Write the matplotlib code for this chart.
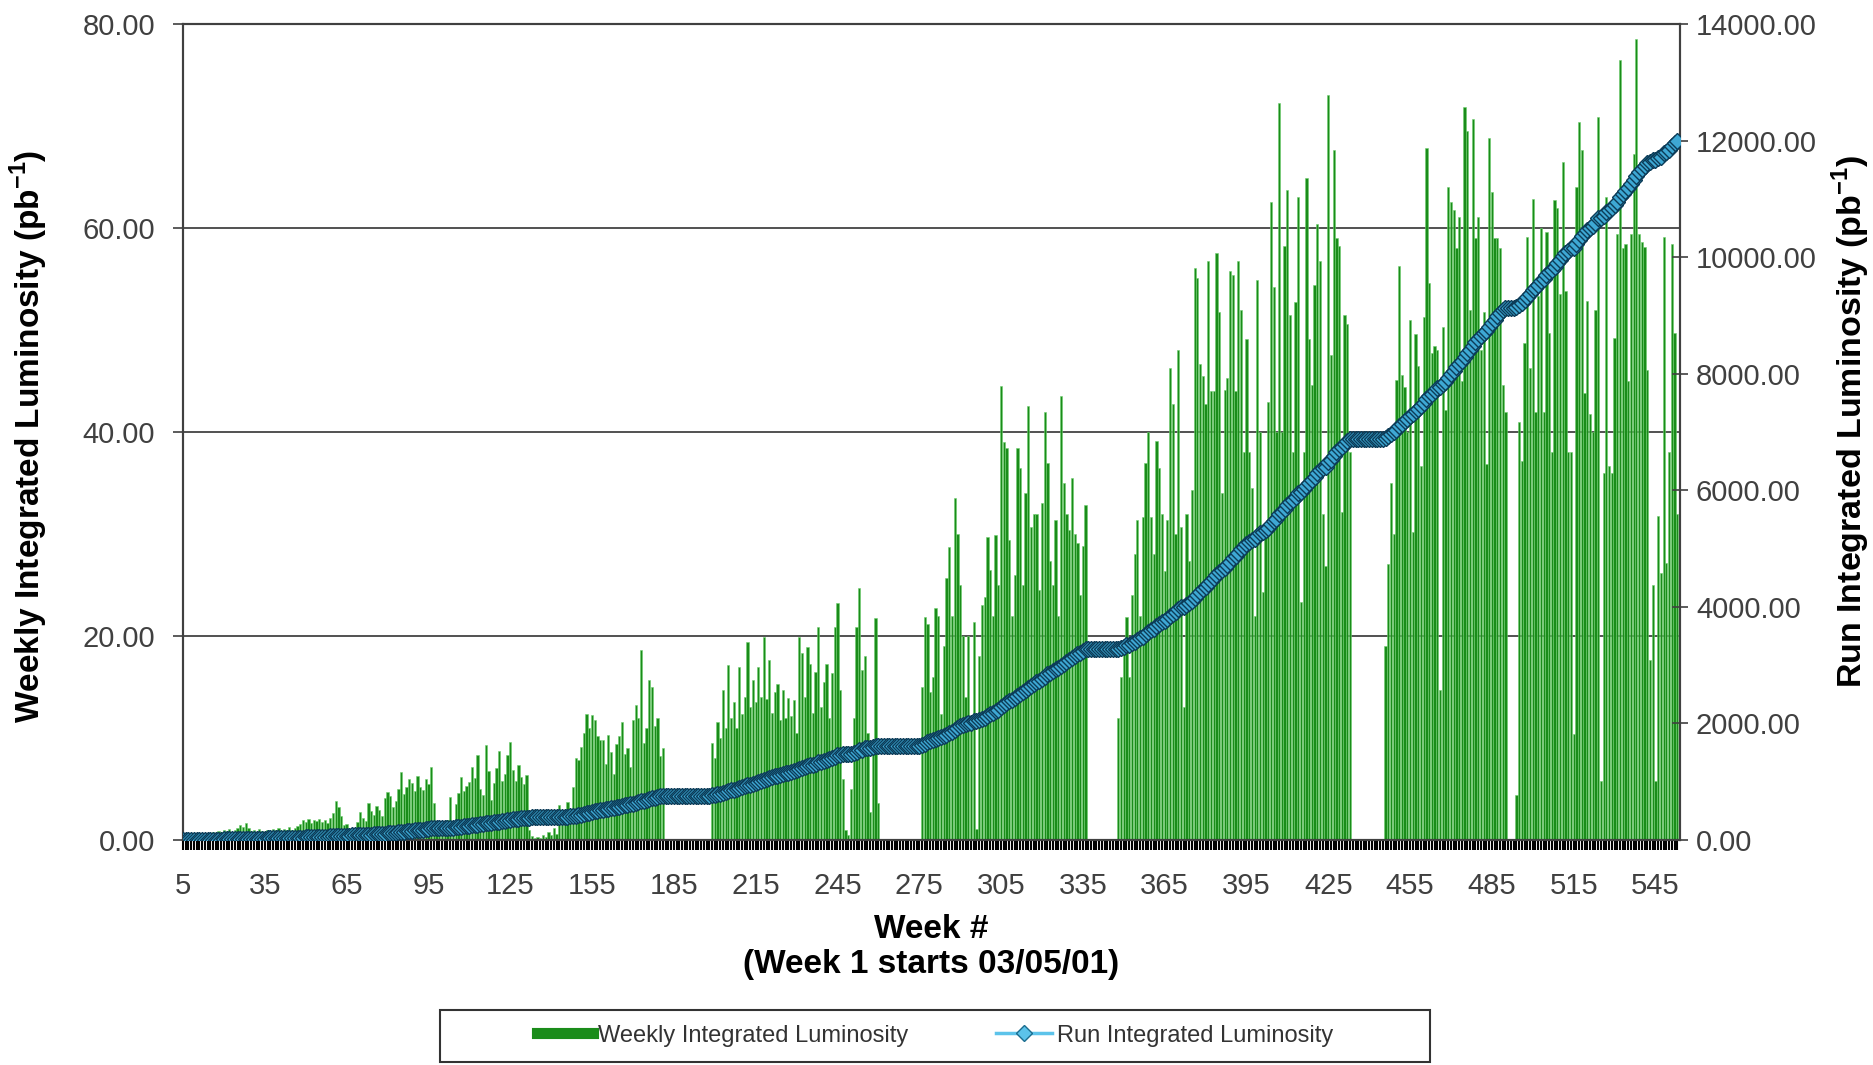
import numpy as np
import matplotlib

matplotlib.use("Agg")
import matplotlib.pyplot as plt
from matplotlib.lines import Line2D
from matplotlib.patches import Rectangle

plt.rcParams["font.family"] = ["Liberation Sans", "DejaVu Sans"]
plt.rcParams["mathtext.fontset"] = "custom"
plt.rcParams["mathtext.rm"] = "Liberation Sans"
plt.rcParams["mathtext.bf"] = "Liberation Sans:bold"

# week numbers (week 1 starts 03/05/01)
weeks = np.arange(5, 554)

# weekly integrated luminosity (pb^-1), one row = 10 weeks
weekly_lumi = [
    0.2, 0.3, 0.2, 0.4, 0.3, 0.5, 0.4, 0.6, 0.5, 0.7,          # 5
    0.6, 0.8, 0.7, 0.9, 0.8, 1.0, 0.9, 1.1, 0.8, 1.0,          # 15
    1.2, 1.5, 1.3, 1.7, 1.2, 0.9, 1.0, 0.8, 1.1, 0.9,          # 25
    0.8, 1.0, 0.9, 1.1, 1.0, 1.2, 0.9, 1.1, 1.0, 1.3,          # 35
    1.0, 1.2, 1.4, 1.6, 2.0, 1.8, 2.1, 1.7, 2.0, 1.9,          # 45
    2.1, 1.8, 2.0, 1.7, 2.2, 2.6, 3.8, 3.2, 2.4, 1.5,          # 55
    1.6, 1.0, 0.8, 1.2, 1.8, 2.7, 2.2, 1.9, 3.6, 2.8,          # 65
    2.5, 3.3, 2.9, 2.4, 4.1, 4.7, 4.3, 3.2, 3.8, 5.0,          # 75
    6.7, 4.5, 5.2, 6.0, 5.6, 4.8, 6.3, 5.2, 4.9, 6.0,          # 85
    5.5, 7.2, 3.6, 1.2, 0.6, 0.8, 1.5, 2.0, 4.2, 1.8,          # 95
    3.5, 4.6, 6.2, 4.8, 5.3, 5.7, 7.2, 6.1, 8.3, 5.0,          # 105
    4.4, 9.3, 6.8, 3.9, 5.6, 7.1, 8.7, 5.8, 6.5, 8.3,          # 115
    9.6, 6.9, 5.8, 7.4, 6.2, 5.5, 6.4, 1.0, 0.4, 0.2,          # 125
    0.3, 0.2, 0.5, 0.3, 0.8, 0.5, 1.2, 0.6, 3.4, 1.5,          # 135
    2.2, 3.7, 1.8, 5.2, 8.0, 7.8, 9.1, 10.5, 12.4, 11.0,       # 145
    12.3, 11.8, 10.2, 9.8, 9.8, 7.5, 10.3, 8.6, 6.5, 9.4,      # 155
    10.2, 11.6, 8.4, 9.0, 7.2, 11.8, 13.2, 12.0, 18.6, 9.5,    # 165
    11.0, 15.7, 15.0, 11.2, 12.0, 8.2, 9.0, 0, 0, 0,           # 175
    0, 0, 0, 0, 0, 0, 0, 0, 0, 0,                              # 185
    0, 0, 0, 0, 9.5, 8.0, 11.6, 10.0, 14.7, 11.0,              # 195
    17.2, 12.0, 13.5, 11.0, 17.0, 12.4, 14.0, 19.4, 13.0, 15.7,  # 205
    13.5, 17.0, 14.0, 19.9, 13.8, 17.6, 12.5, 14.5, 15.3, 11.8,  # 215
    14.7, 12.0, 13.9, 12.2, 13.7, 10.5, 19.9, 18.3, 14.0, 18.9,  # 225
    17.3, 12.5, 16.5, 20.9, 13.0, 15.5, 17.3, 12.0, 16.4, 20.9,  # 235
    23.2, 14.7, 6.0, 1.0, 0.5, 5.0, 12.0, 20.9, 24.7, 16.7,      # 245
    18.0, 10.5, 2.7, 9.7, 21.8, 3.6, 0, 0, 0, 0,                 # 255
    0, 0, 0, 0, 0, 0, 0, 0, 0, 0,                                # 265
    0, 15.0, 21.9, 21.2, 14.5, 16.0, 22.7, 22.0, 12.4, 19.0,     # 275
    25.7, 28.7, 22.0, 33.5, 30.0, 25.0, 20.0, 14.0, 20.0, 12.0,  # 285
    21.4, 1.1, 18.0, 23.0, 23.8, 29.7, 26.5, 22.0, 29.9, 25.0,   # 295
    44.5, 39.0, 38.4, 29.4, 22.0, 26.0, 38.4, 36.5, 25.0, 34.0,  # 305
    42.5, 30.7, 32.0, 32.0, 24.5, 33.0, 42.0, 37.0, 27.4, 25.0,  # 315
    31.4, 22.0, 43.5, 35.0, 32.0, 30.4, 35.5, 30.0, 29.1, 24.0,  # 325
    28.8, 32.8, 0, 0, 0, 0, 0, 0, 0, 0,                          # 335
    0, 0, 0, 12.0, 16.0, 19.0, 21.9, 16.0, 24.0, 28.0,           # 345
    31.4, 22.0, 31.7, 37.0, 40.0, 31.7, 28.0, 39.1, 36.5, 32.0,  # 355
    26.4, 31.4, 46.3, 42.7, 30.0, 48.0, 30.7, 13.0, 32.0, 27.4,  # 365
    34.3, 56.1, 55.1, 46.7, 45.5, 42.7, 56.8, 44.0, 44.0, 57.5,  # 375
    51.8, 34.0, 44.1, 45.3, 55.8, 55.4, 44.0, 56.8, 52.0, 38.0,  # 385
    49.1, 38.0, 34.5, 22.0, 54.9, 40.0, 24.3, 30.0, 42.9, 62.5,  # 395
    54.2, 40.0, 72.3, 40.0, 58.2, 63.7, 51.5, 38.0, 52.7, 63.0,  # 405
    23.3, 38.0, 64.9, 49.1, 44.6, 54.4, 60.4, 56.8, 32.0, 26.9,  # 415
    73.0, 47.5, 67.6, 59.0, 58.2, 32.2, 51.5, 50.6, 38.0, 0,     # 425
    0, 0, 0, 0, 0, 0, 0, 0, 0, 0,                                # 435
    0, 19.0, 27.1, 35.0, 30.0, 45.1, 56.3, 45.6, 44.4, 40.0,     # 445
    51.0, 30.2, 49.6, 46.5, 36.7, 51.3, 67.8, 54.6, 47.7, 48.4,  # 455
    48.0, 14.7, 50.3, 42.2, 64.0, 62.5, 61.8, 58.0, 61.1, 45.0,  # 465
    71.9, 69.5, 52.0, 70.7, 59.0, 61.1, 48.0, 51.8, 36.9, 68.8,  # 475
    63.5, 59.0, 59.0, 58.0, 44.6, 42.0, 0, 0, 0, 4.4,            # 485
    41.0, 37.2, 48.7, 59.1, 46.3, 62.8, 42.0, 53.3, 60.0, 42.0,  # 495
    59.6, 49.7, 38.0, 62.7, 62.0, 53.5, 66.5, 53.8, 38.0, 38.0,  # 505
    10.4, 64.0, 70.4, 67.6, 43.8, 52.8, 41.8, 40.0, 52.0, 70.9,  # 515
    5.8, 36.0, 63.0, 36.7, 36.0, 49.2, 59.4, 76.5, 58.0, 58.4,   # 525
    45.0, 59.4, 67.3, 78.5, 59.4, 58.6, 58.1, 46.1, 17.6, 25.0,  # 535
    5.8, 31.8, 26.2, 59.1, 27.2, 38.0, 58.4, 49.7, 32.0,         # 545
]

# run integrated luminosity is the running total of the weekly values
run_lumi = np.cumsum(weekly_lumi)

left_ticks = [0, 20, 40, 60, 80]
right_ticks = [0, 2000, 4000, 6000, 8000, 10000, 12000, 14000]
week_labels = list(range(5, 554, 30))

BAR_GREEN = "#1a8c1a"
TEXT_GREY = "#404040"

fig = plt.figure(figsize=(18.74, 10.65), dpi=100)
ax = fig.add_axes([183 / 1874, 1 - 840 / 1065, 1497 / 1874, 816 / 1065])

ax.bar(weeks, weekly_lumi, width=0.82, color=BAR_GREEN, edgecolor="#6fcf6f",
       linewidth=0.4, zorder=2)
ax.set_xlim(5, 554)
ax.set_ylim(0, 80)
ax.set_yticks(left_ticks)
ax.set_yticklabels([f"{v:.2f}" for v in left_ticks])
ax.yaxis.grid(True, color="#333333", linewidth=1.2, zorder=1)
ax.set_axisbelow(True)

ax.set_xticks(week_labels)
ax.set_xticks(weeks, minor=True)
ax.tick_params(axis="x", which="both", direction="out", length=7, width=1.5,
               color="black", labelsize=21, labelcolor=TEXT_GREY, pad=16)
ax.tick_params(axis="y", direction="out", length=7, width=1.2, color=TEXT_GREY,
               labelsize=21, labelcolor=TEXT_GREY, pad=13)
for side in ax.spines.values():
    side.set_color(TEXT_GREY)
    side.set_linewidth(1.5)
ax.spines["bottom"].set_color("black")

ax.set_ylabel(r"Weekly Integrated Luminosity (pb$^{\mathbf{-1}}$)",
              fontsize=24, fontweight="bold")
ax.yaxis.set_label_coords(-0.089, 0.495)
ax.set_xlabel("Week #\n(Week 1 starts 03/05/01)", fontsize=24,
              fontweight="bold", linespacing=1.15, va="top")
ax.xaxis.set_label_coords(0.5, -0.091)

# Run integrated luminosity on the right-hand axis
ax2 = ax.twinx()
ax2.plot(weeks, run_lumi, color="#0c3c58", linewidth=1.5, marker="D",
         markersize=8.5, markerfacecolor="#3ea8d4", markeredgecolor="#0c3c58",
         markeredgewidth=1.0, zorder=3)
ax2.set_ylim(0, 14000)
ax2.set_yticks(right_ticks)
ax2.set_yticklabels([f"{v:.2f}" for v in right_ticks])
ax2.tick_params(axis="y", direction="inout", length=11, width=1.2,
                color=TEXT_GREY, labelsize=21, labelcolor=TEXT_GREY, pad=6)
for side in ax2.spines.values():
    side.set_color(TEXT_GREY)
    side.set_linewidth(1.5)
ax2.set_ylabel(r"Run Integrated Luminosity (pb$^{\mathbf{-1}}$)",
               fontsize=24.5, fontweight="bold", rotation=90)
ax2.yaxis.set_label_coords(1.100, 0.513)

# legend with a plain rectangular box under the chart
handles = [
    Line2D([], [], color=BAR_GREEN, linewidth=8),
    Line2D([], [], color="#5cc3ea", linewidth=2.5, marker="D", markersize=8,
           markerfacecolor="#5cc3ea", markeredgecolor="#1b6d8f"),
]
leg = fig.legend(handles, ["Weekly Integrated Luminosity", "Run Integrated Luminosity"],
                 loc="center", bbox_to_anchor=(0.499, 0.0275), ncol=2,
                 frameon=False, fontsize=17, handlelength=2.4,
                 handletextpad=0.2, columnspacing=3.7)
for t in leg.get_texts():
    t.set_color("#333333")
fig.patches.append(Rectangle((440 / 1874, 3 / 1065), 990 / 1874, 52 / 1065,
                             transform=fig.transFigure, fill=False,
                             edgecolor="#333333", linewidth=1.5))

fig.savefig("out.png", dpi=100)
